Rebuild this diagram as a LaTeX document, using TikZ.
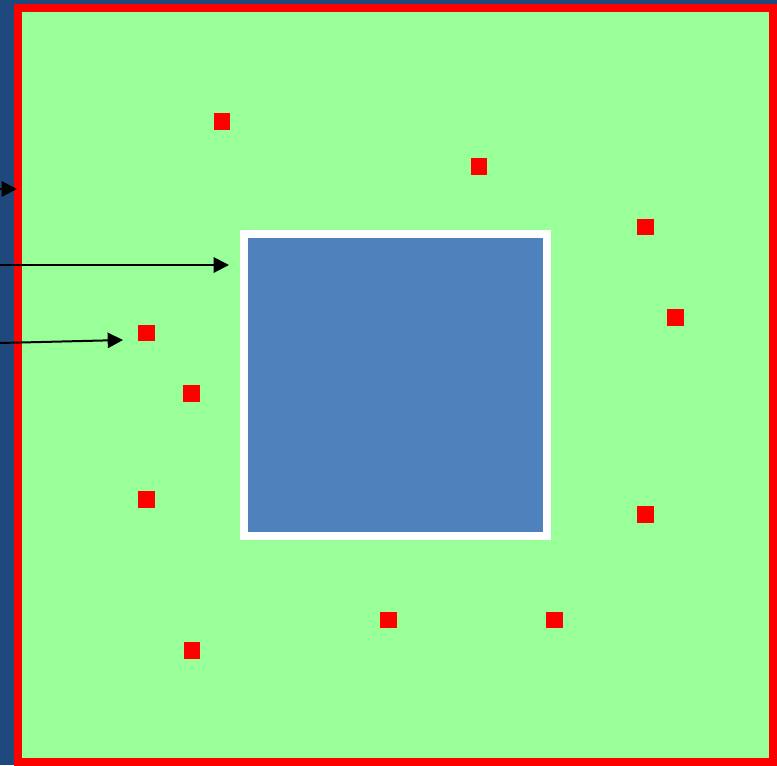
\documentclass[tikz,border=0pt]{standalone}
\usepackage{tikz}
\usetikzlibrary{arrows.meta,positioning,calc}

\definecolor{navy}{RGB}{31,73,125}
\definecolor{field}{RGB}{153,255,153}
\definecolor{steel}{RGB}{79,129,189}

\begin{document}
\begin{tikzpicture}[x=0.75pt, y=-0.75pt,
    spot/.style={fill=red, minimum size=12.5pt, inner sep=0pt, outer sep=0pt},
    probe/.style={-{Triangle[length=11.5pt, width=11.5pt]}, line width=1.5pt, black}]
    \useasboundingbox (0,0) rectangle (777,765);
    \fill[navy] (0,0) rectangle (777,765);

    %field
    \draw[red, line width=6pt, fill=field] (18,8) rectangle (773,762);

    %coordinates
    \coordinate (in0) at (0,189);
    \coordinate (in1) at (0,265);
    \coordinate (in2) at (0,343);

    \coordinate (out0) at (17,189);
    \coordinate (out1) at (229,265);
    \coordinate (out2) at (123,340);

    %nodes
    \node[draw=white, fill=steel, line width=6pt, minimum width=227.25pt, minimum height=226.5pt, inner sep=0pt] (core) at (395.5,385) {};

    \node[spot] (s0)  at (222,121.5) {};
    \node[spot] (s1)  at (479,166.5) {};
    \node[spot] (s2)  at (645.3,227) {};
    \node[spot] (s3)  at (675.3,317.5) {};
    \node[spot] (s4)  at (146.3,333) {};
    \node[spot] (s5)  at (191.7,393.3) {};
    \node[spot] (s6)  at (146.3,499.3) {};
    \node[spot] (s7)  at (645.3,514.3) {};
    \node[spot] (s8)  at (388.3,620) {};
    \node[spot] (s9)  at (554.7,620) {};
    \node[spot] (s10) at (192,650.5) {};

    %edges
    \draw[probe] (in0) -- (out0);
    \draw[probe] (in1) -- (out1);
    \draw[probe] (in2) -- (out2);
\end{tikzpicture}
\end{document}
